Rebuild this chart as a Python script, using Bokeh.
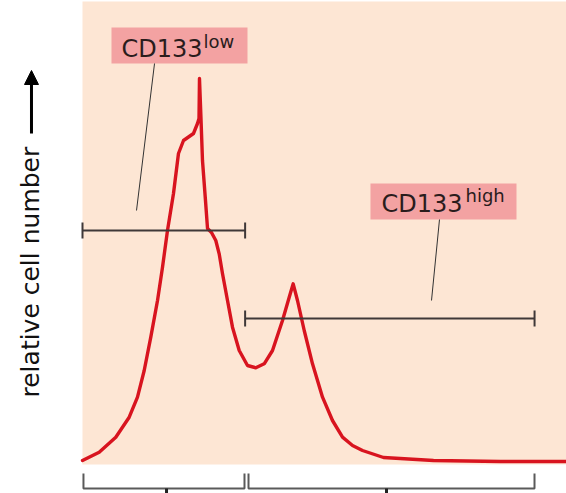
import math
from bokeh.plotting import figure
from bokeh.models import Label, Arrow, NormalHead, ColumnDataSource, Range1d
from bokeh.embed import file_html
from bokeh.resources import INLINE

# ---- data ----
# CD133 fluorescence intensity (arbitrary units 0-100) and relative cell number
intensity = [0, 3.45, 6.88, 9.65, 11.36, 12.75, 14.11, 15.50, 16.53, 17.56, 18.80, 19.83,
             20.87, 22.93, 23.76, 24.07, 24.17, 24.48, 24.79, 25.41, 25.83, 26.65, 27.54,
             28.24, 28.93, 29.96, 30.99, 32.38, 34.09, 35.81, 37.54, 39.26, 41.32, 42.71,
             43.53, 44.42, 45.81, 47.52, 49.59, 51.65, 53.72, 55.79, 57.85, 62.19, 72.52,
             86.36, 100]
counts = [0.75, 2.83, 6.58, 11.58, 16.58, 23.25, 31.58, 40.75, 49.08, 58.25, 67.5, 77.5,
          80.75, 82.5, 85.0, 86.25, 96.25, 86.25, 75.75, 65.75, 58.75, 57.75, 55.75,
          52.42, 47.42, 40.75, 34.08, 28.25, 24.5, 23.92, 24.92, 28.25, 35.75, 41.58,
          44.92, 40.75, 33.25, 24.92, 16.58, 10.75, 6.58, 4.5, 3.25, 1.5, 0.75,
          0.5, 0.5]

gate_names = ["CD133low", "CD133high"]
gate_lo = [0.0, 33.6]
gate_hi = [33.6, 93.4]
gate_level = [58.25, 36.25]

bin_lo = [0.2, 34.3]
bin_hi = [33.47, 93.39]
bin_mid = [17.36, 62.81]

label_main = ["CD133", "CD133"]
label_sup = ["low", "high"]
y_label = "relative cell number"

# ---- figure ----
W, H = 566, 493
p = figure(width=W, height=H, output_backend="svg", toolbar_location=None,
           x_range=Range1d(-16.942, 100.0), y_range=Range1d(-7.5, 115.75),
           min_border=0, min_border_left=0, min_border_right=0,
           min_border_top=0, min_border_bottom=0)
p.axis.visible = False
p.grid.visible = False
p.outline_line_color = None
p.background_fill_color = "white"
p.border_fill_color = "white"

PEACH = "#fde6d4"
PINK = "#f3a2a2"
RED = "#d8141f"
DARK = "#3f3838"
TXT = "#2a1c1c"
FONT = "DejaVu Sans"

# peach panel
p.quad(left=[0], right=[120], bottom=[-0.25], top=[115.5], fill_color=PEACH, line_color=None)

# histogram curve
src = ColumnDataSource(dict(x=intensity, y=counts))
p.line("x", "y", source=src, line_color=RED, line_width=3.4, line_join="round", line_cap="round")

# gate brackets
tick = 2.0
for lo, hi, lev in zip(gate_lo, gate_hi, gate_level):
    p.segment(x0=[lo], y0=[lev], x1=[hi], y1=[lev], line_color=DARK, line_width=2)
    p.segment(x0=[lo, hi], y0=[lev - tick, lev - tick], x1=[lo, hi], y1=[lev + tick, lev + tick],
              line_color=DARK, line_width=2)

# bottom brackets
for lo, hi, mid in zip(bin_lo, bin_hi, bin_mid):
    p.line([lo, lo, hi, hi], [-2.5, -6.25, -6.25, -2.5], line_color="#5a5a5a", line_width=2)
    p.segment(x0=[mid], y0=[-6.25], x1=[mid], y1=[-8], line_color="#222222", line_width=3)

# label boxes
boxes = [dict(l=5.99, r=34.09, b=100.0, t=109.0), dict(l=59.5, r=89.67, b=61.0, t=70.0)]
for bx in boxes:
    p.quad(left=[bx["l"]], right=[bx["r"]], bottom=[bx["b"]], top=[bx["t"]],
           fill_color=PINK, line_color=None)

# leader lines
p.segment(x0=[14.88, 73.76], y0=[100.0, 61.0], x1=[11.16, 72.11], y1=[63.25, 40.75],
          line_color="#333333", line_width=1)

# label texts
main_pos = [(8.06, 103.75), (61.78, 65.0)]
sup_pos = [(25.0, 105.5), (79.13, 67.0)]
for t, (x, y) in zip(label_main, main_pos):
    p.add_layout(Label(x=x, y=y, text=t, text_font=FONT, text_font_size="24px",
                       text_color=TXT, text_baseline="alphabetic", text_align="left"))
for t, (x, y) in zip(label_sup, sup_pos):
    p.add_layout(Label(x=x, y=y, text=t, text_font=FONT, text_font_size="18px",
                       text_color=TXT, text_baseline="alphabetic", text_align="left"))

# y axis label with arrow
p.add_layout(Label(x=-10.7, y=16.5, text=y_label, angle=math.pi / 2, angle_units="rad",
                   text_font=FONT, text_font_size="25px", text_color="#111111",
                   text_baseline="alphabetic", text_align="left"))
p.add_layout(Arrow(end=NormalHead(size=14, fill_color="black", line_color="black"),
                   x_start=-10.54, y_start=82.5, x_end=-10.54, y_end=98.25,
                   line_color="black", line_width=3))

open("out.html", "w").write(file_html(p, INLINE))
